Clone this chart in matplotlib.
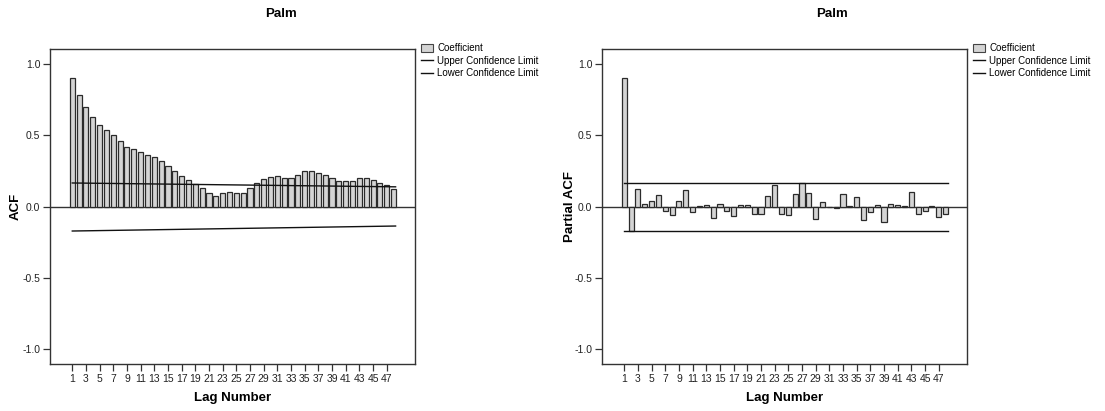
import numpy as np
import matplotlib
matplotlib.use('Agg')
import matplotlib.pyplot as plt
from matplotlib.patches import Patch
from matplotlib.lines import Line2D

plt.rcParams['font.family'] = ['Liberation Sans', 'DejaVu Sans']

# Data
lags = np.arange(1, 49)
acf = [0.90, 0.78, 0.695, 0.627, 0.575, 0.54, 0.505, 0.459, 0.414, 0.40,
       0.384, 0.363, 0.344, 0.316, 0.281, 0.25, 0.215, 0.183, 0.159, 0.133,
       0.096, 0.075, 0.094, 0.105, 0.098, 0.098, 0.129, 0.168, 0.192, 0.21,
       0.213, 0.199, 0.199, 0.22, 0.246, 0.248, 0.232, 0.218, 0.199, 0.18,
       0.178, 0.18, 0.199, 0.201, 0.183, 0.168, 0.15, 0.122]
pacf = [0.90, -0.173, 0.126, 0.016, 0.038, 0.08, -0.035, -0.058, 0.038, 0.117,
        -0.04, 0.005, 0.014, -0.082, 0.02, -0.03, -0.068, 0.012, 0.012, -0.054,
        -0.056, 0.073, 0.15, -0.052, -0.061, 0.089, 0.166, 0.098, -0.086, 0.033,
        -0.004, -0.014, 0.087, 0.003, 0.07, -0.096, -0.04, 0.012, -0.107, 0.016,
        0.01, 0.002, 0.10, -0.05, -0.035, 0.003, -0.075, -0.054]
acf_upper = [0.165, 0.138]   # at lag 1 and lag 48
acf_lower = [-0.172, -0.137]
pacf_upper = [0.167, 0.167]
pacf_lower = [-0.172, -0.172]

W, H = 1105, 411
fig = plt.figure(figsize=(W / 100, H / 100), dpi=100)

def make_panel(x0, values, upper, lower, ylabel, ylabel_x, title_x):
    ax = fig.add_axes([x0 / W, (H - 364) / H, 365 / W, 315 / H])
    ax.bar(lags, values, width=0.74, color='#d4d4d4', edgecolor='#2b2b2b',
           linewidth=0.9, zorder=2)
    ax.plot([1, 48.3], upper, color='#111111', linewidth=1.0, zorder=3)
    ax.plot([1, 48.3], lower, color='#111111', linewidth=1.0, zorder=3)
    ax.axhline(0, color='#333333', linewidth=1.0, zorder=1)
    ax.set_xlim(-2.26, 51.14)
    ax.set_ylim(-1.105, 1.105)
    ax.set_xticks(np.arange(1, 48, 2))
    ax.set_yticks([1.0, 0.5, 0.0, -0.5, -1.0])
    ax.set_yticklabels(['1.0', '0.5', '0.0', '-0.5', '-1.0'])
    ax.tick_params(axis='both', direction='out', length=5, width=0.9,
                   color='#333333', labelsize=7.5, labelcolor='#222222', pad=2)
    for s in ax.spines.values():
        s.set_color('#333333')
        s.set_linewidth(1.0)
    ax.set_ylabel(ylabel, fontsize=9.5, fontweight='bold')
    # label anchor sits on the right side of the rotated text
    ax.yaxis.set_label_coords((ylabel_x + 8 - x0) / 365, 0.5)
    ax.set_xlabel('Lag Number', fontsize=9.5, fontweight='bold', labelpad=6)
    handles = [Patch(facecolor='#d4d4d4', edgecolor='#444444', linewidth=0.8),
               Line2D([], [], color='#111111', linewidth=1.0),
               Line2D([], [], color='#111111', linewidth=1.0)]
    ax.legend(handles, ['Coefficient', 'Upper Confidence Limit',
                        'Lower Confidence Limit'],
              loc='upper left', bbox_to_anchor=(1.005, 1.03), frameon=False,
              fontsize=7, handlelength=1.3, handleheight=0.9,
              handletextpad=0.4, labelspacing=0.25, borderaxespad=0)
    fig.text(title_x / W, 1 - 14 / H, 'Palm', ha='center', va='center',
             fontsize=9.5, fontweight='bold')
    return ax

make_panel(50, acf, acf_upper, acf_lower, 'ACF', 14, 281)
make_panel(602, pacf, pacf_upper, pacf_lower, 'Partial ACF', 568, 832)

fig.savefig('out.png', dpi=100)
